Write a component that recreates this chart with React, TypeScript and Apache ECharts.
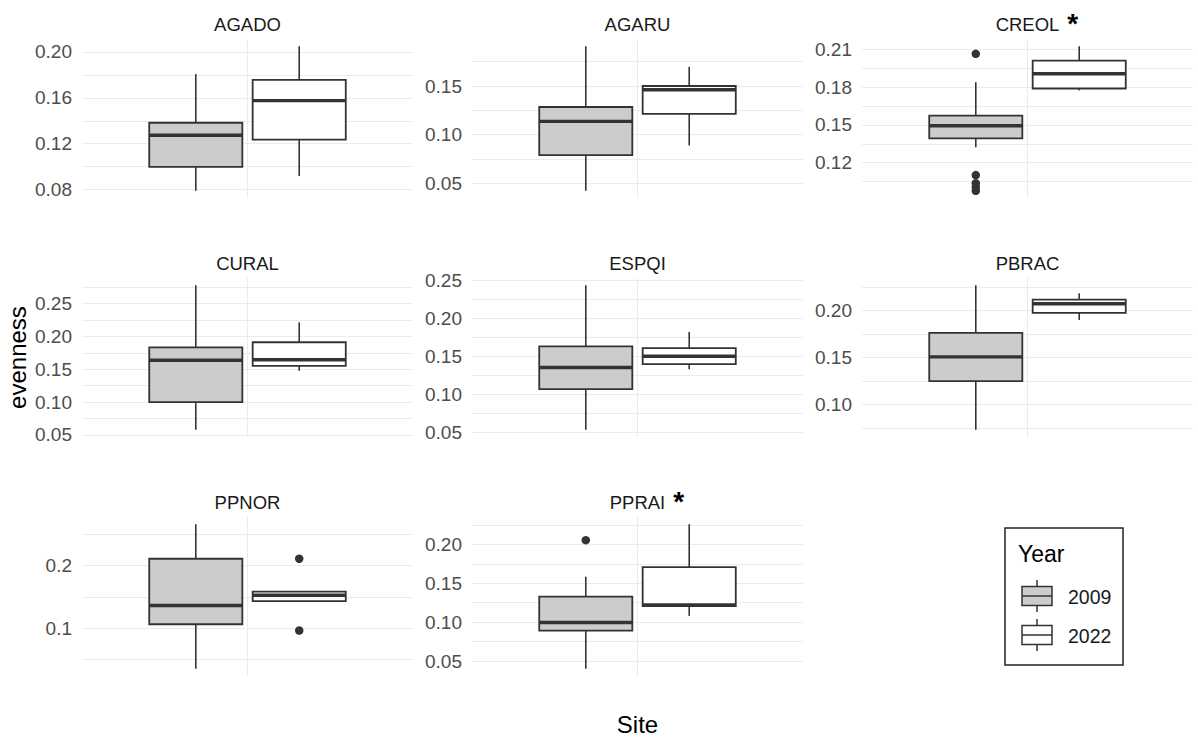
import React, { useEffect, useRef } from "react";
import * as echarts from "echarts";

// ---------- data ----------
const sites = ["AGADO", "AGARU", "CREOL", "CURAL", "ESPQI", "PBRAC", "PPNOR", "PPRAI"];
const years = ["2009", "2022"];
// [lower whisker, Q1, median, Q3, upper whisker]
const stats2009 = [
  [0.079, 0.0998, 0.1274, 0.1383, 0.1807],
  [0.0423, 0.079, 0.1136, 0.1284, 0.1909],
  [0.1322, 0.1393, 0.1494, 0.1574, 0.1841],
  [0.0579, 0.1, 0.1638, 0.1833, 0.2781],
  [0.0531, 0.1065, 0.1349, 0.1628, 0.2432],
  [0.0731, 0.125, 0.1508, 0.1765, 0.2272],
  [0.0354, 0.1065, 0.1365, 0.2111, 0.2662],
  [0.0401, 0.0891, 0.0995, 0.1328, 0.1584],
];
const stats2022 = [
  [0.0919, 0.1236, 0.1576, 0.1757, 0.205],
  [0.0889, 0.1214, 0.1461, 0.15, 0.1697],
  [0.1776, 0.1791, 0.1909, 0.2013, 0.2128],
  [0.1478, 0.1552, 0.1645, 0.1912, 0.2215],
  [0.1327, 0.1394, 0.1498, 0.1606, 0.1818],
  [0.1902, 0.1978, 0.2074, 0.2119, 0.2186],
  [0.1435, 0.1435, 0.1527, 0.1587, 0.1587],
  [0.1081, 0.1208, 0.1222, 0.1707, 0.2259],
];
const outliers2009 = [[], [], [0.2067, 0.11, 0.1035, 0.1005, 0.0975], [], [], [], [], [0.2054]];
const outliers2022 = [[], [], [], [], [], [], [0.2111, 0.0965], []];
// labelled tick step per panel (grid lines every half step) and label decimals
const majorStep = [0.04, 0.05, 0.03, 0.05, 0.05, 0.05, 0.1, 0.05];
const labelDecimals = [2, 2, 2, 2, 2, 2, 1, 2];
const starred = ["CREOL", "PPRAI"];
const yTitle = "evenness";
const xTitle = "Site";
const legendTitle = "Year";

// ---------- layout / style ----------
const FONT = '"Liberation Sans", Arial, sans-serif';
const TITLE_FONT = `18.5px ${FONT}`;
const COL_LEFT = [82, 472, 862];
const PLOT_W = 331;
const ROW_TOP = [39, 278, 517];
const PLOT_H = 159;
const DODGE = 0.1875;
const HALF_BOX = 0.16875;
const FILLS: Record<string, string> = { "2009": "#CCCCCC", "2022": "#FFFFFF" };
const STROKE = "#333333";
const GRID_COLOR = "#EBEBEB";

function textWidth(text: string, font: string): number {
  try {
    const ctx = document.createElement("canvas").getContext("2d");
    if (ctx) {
      ctx.font = font;
      return ctx.measureText(text).width;
    }
  } catch (e) {
    /* ignore */
  }
  return text.length * 12;
}

const makeRender = (fill: string) => (_params: any, api: any) => {
  const x = api.value(0);
  const lo = api.coord([x, api.value(1)]);
  const q1 = api.coord([x, api.value(2)]);
  const md = api.coord([x, api.value(3)]);
  const q3 = api.coord([x, api.value(4)]);
  const hi = api.coord([x, api.value(5)]);
  const left = api.coord([x - HALF_BOX, api.value(3)])[0];
  const right = api.coord([x + HALF_BOX, api.value(3)])[0];
  const cx = md[0];
  return {
    type: "group",
    children: [
      { type: "line", shape: { x1: cx, y1: hi[1], x2: cx, y2: q3[1] }, style: { stroke: STROKE, lineWidth: 1.6 } },
      { type: "line", shape: { x1: cx, y1: q1[1], x2: cx, y2: lo[1] }, style: { stroke: STROKE, lineWidth: 1.6 } },
      {
        type: "rect",
        shape: { x: left, y: q3[1], width: right - left, height: q1[1] - q3[1] },
        style: { fill, stroke: STROKE, lineWidth: 1.8 },
      },
      { type: "line", shape: { x1: left, y1: md[1], x2: right, y2: md[1] }, style: { stroke: STROKE, lineWidth: 3.4 } },
    ],
  };
};

function buildOption() {
  const grid: any[] = [];
  const xAxis: any[] = [];
  const yAxis: any[] = [];
  const series: any[] = [];
  const graphics: any[] = [];

  sites.forEach((site, i) => {
    const row = Math.floor(i / 3);
    const col = i % 3;
    const left = COL_LEFT[col];
    const top = ROW_TOP[row];
    grid.push({ left, top, width: PLOT_W, height: PLOT_H, containLabel: false });

    xAxis.push({
      gridIndex: i,
      type: "value",
      min: -0.6,
      max: 0.6,
      minInterval: 0.6,
      maxInterval: 0.6,
      axisLine: { show: false },
      axisTick: { show: false },
      axisLabel: { show: false },
      splitLine: { show: true, showMinLine: false, showMaxLine: false, lineStyle: { color: GRID_COLOR, width: 1 } },
    });

    const all = [...stats2009[i], ...stats2022[i], ...outliers2009[i], ...outliers2022[i]];
    const dMin = Math.min(...all);
    const dMax = Math.max(...all);
    const pad = (dMax - dMin) * 0.05;
    const major = majorStep[i];
    const minor = major / 2;
    const dec = labelDecimals[i];
    yAxis.push({
      gridIndex: i,
      type: "value",
      min: dMin - pad,
      max: dMax + pad,
      minInterval: minor,
      maxInterval: minor,
      axisLine: { show: false },
      axisTick: { show: false },
      splitLine: { show: true, showMinLine: false, showMaxLine: false, lineStyle: { color: GRID_COLOR, width: 1 } },
      axisLabel: {
        color: "#4D4D4D",
        fontSize: 19,
        fontFamily: FONT,
        margin: 10,
        showMinLabel: false,
        showMaxLabel: false,
        formatter: (v: number) => {
          const r = v / major;
          return Math.abs(r - Math.round(r)) < 1e-6 ? v.toFixed(dec) : "";
        },
      },
    });

    years.forEach((yr, k) => {
      const stats = k === 0 ? stats2009[i] : stats2022[i];
      const outs = k === 0 ? outliers2009[i] : outliers2022[i];
      const xPos = k === 0 ? -DODGE : DODGE;
      series.push({
        type: "custom",
        name: yr,
        xAxisIndex: i,
        yAxisIndex: i,
        renderItem: makeRender(FILLS[yr]),
        encode: { x: 0, y: [1, 2, 3, 4, 5] },
        data: [[xPos, ...stats]],
        z: 3,
      });
      if (outs.length) {
        series.push({
          type: "scatter",
          name: yr + " outliers",
          xAxisIndex: i,
          yAxisIndex: i,
          symbol: "circle",
          symbolSize: 8.5,
          itemStyle: { color: STROKE, opacity: 1 },
          data: outs.map((v) => [xPos, v]),
          z: 4,
        });
      }
    });

    // strip title
    const cx = left + PLOT_W / 2;
    const ty = top - 15;
    graphics.push({
      type: "text",
      x: cx,
      y: ty,
      style: { text: site, fill: "#1A1A1A", font: TITLE_FONT, textAlign: "center", textVerticalAlign: "middle" },
    });
    if (starred.includes(site)) {
      const w = textWidth(site, TITLE_FONT);
      graphics.push({
        type: "text",
        x: cx + w / 2 + 8,
        y: ty - 0.5,
        style: { text: "*", fill: "#000000", font: `bold 28px ${FONT}`, textAlign: "left", textVerticalAlign: "middle" },
      });
    }
  });

  // axis titles
  graphics.push({
    type: "text",
    x: 17,
    y: (ROW_TOP[0] + ROW_TOP[2] + PLOT_H) / 2,
    rotation: Math.PI / 2,
    style: { text: yTitle, fill: "#000000", font: `24px ${FONT}`, textAlign: "center", textVerticalAlign: "middle" },
  });
  graphics.push({
    type: "text",
    x: (COL_LEFT[0] + COL_LEFT[2] + PLOT_W) / 2,
    y: 724,
    style: { text: xTitle, fill: "#000000", font: `24px ${FONT}`, textAlign: "center", textVerticalAlign: "middle" },
  });

  // legend
  const LX = 1005, LY = 528, LW = 118, LH = 137;
  graphics.push({ type: "rect", shape: { x: LX, y: LY, width: LW, height: LH }, style: { fill: "#FFFFFF", stroke: "#222222", lineWidth: 1.5 } });
  graphics.push({
    type: "text",
    x: LX + 13,
    y: LY + 26,
    style: { text: legendTitle, fill: "#000000", font: `23px ${FONT}`, textAlign: "left", textVerticalAlign: "middle" },
  });
  years.forEach((yr, k) => {
    const cy = LY + 68 + k * 39;
    const kx = LX + 17;
    const kw = 30;
    graphics.push({ type: "line", shape: { x1: kx + kw / 2, y1: cy - 16, x2: kx + kw / 2, y2: cy + 16 }, style: { stroke: STROKE, lineWidth: 1.5 } });
    graphics.push({ type: "rect", shape: { x: kx, y: cy - 9.5, width: kw, height: 19 }, style: { fill: FILLS[yr], stroke: STROKE, lineWidth: 1.5 } });
    graphics.push({ type: "line", shape: { x1: kx, y1: cy, x2: kx + kw, y2: cy }, style: { stroke: STROKE, lineWidth: 1.5 } });
    graphics.push({
      type: "text",
      x: LX + 63,
      y: cy + 1,
      style: { text: yr, fill: "#1A1A1A", font: `19.5px ${FONT}`, textAlign: "left", textVerticalAlign: "middle" },
    });
  });

  return {
    animation: false,
    backgroundColor: "#FFFFFF",
    grid,
    xAxis,
    yAxis,
    series,
    graphic: { elements: graphics },
  };
}

export default function App() {
  const ref = useRef<HTMLDivElement>(null);
  useEffect(() => {
    if (!ref.current) return;
    const chart = echarts.init(ref.current, undefined, { renderer: "svg" });
    chart.setOption(buildOption() as any);
    return () => chart.dispose();
  }, []);
  return <div ref={ref} style={{ position: "fixed", left: 0, top: 0, width: 1198, height: 738 }} />;
}
